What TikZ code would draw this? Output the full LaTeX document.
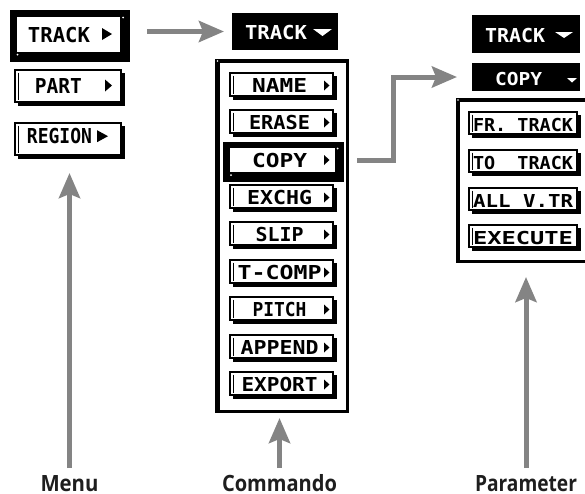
\documentclass[tikz,border=0pt]{standalone}
\usepackage{fontspec}
\usepackage{graphicx}
\usetikzlibrary{arrows.meta}
\newfontfamily\lcdfont{DejaVu Sans Mono}
\newfontfamily\labfont{Open Sans}
\definecolor{arrgray}{RGB}{132,132,132}
\definecolor{labcol}{RGB}{30,30,30}
\newcommand{\lcd}[3][14]{\resizebox{#2pt}{\height}{\lcdfont\bfseries\fontsize{\fpeval{#1/0.729}pt}{20pt}\selectfont #3}}
\newcommand{\labtxt}[2]{\resizebox{#1pt}{\height}{\labfont\bfseries\fontsize{22.4pt}{24pt}\selectfont #2}}
\newcommand{\blk}[5]{\node[blkbox,minimum width={(#4-#2)*1pt},minimum height={(#5-#3)*1pt}] (#1) at ({(#2+#4)/2},{(#3+#5)/2}) {};}
\newcommand{\btn}[5]{%
  \fill (#2+3,#3+3) rectangle (#4+4,#5+4);
  \node[btnbox,minimum width={(#4-#2)*1pt},minimum height={(#5-#3)*1pt}] (#1) at ({(#2+#4)/2},{(#3+#5)/2}) {};
  \draw[line width=1pt] (#2+3,#3+2.5) -- (#2+3,#5-2.5);
}
\begin{document}
\begin{tikzpicture}[x=1pt,y=-1pt,
  arr/.style={draw=arrgray,line width=5pt,-{Stealth[length=25pt,width=21pt,inset=4pt]}},
  txt/.style={inner sep=0pt,outer sep=0pt},
  wtxt/.style={txt,text=white},
  lab/.style={inner sep=0pt,outer sep=0pt,anchor=base,text=labcol},
  blkbox/.style={fill=black,draw=none,inner sep=0pt,outer sep=0pt},
  btnbox/.style={fill=white,draw=black,line width=1.5pt,inner sep=0pt,outer sep=0pt},
]
\useasboundingbox (0,0) rectangle (585,493);
\begin{scope}
\clip (0,0) rectangle (585,493);
% ---------- Menu column ----------
\blk{mSel}{10}{10}{130}{62}
\fill[white] (17,17) rectangle (120,52);
\fill[white] (123,17.5) circle (1pt);
\fill[white] (17.5,54.5) circle (1pt);
\node[txt,anchor=base] (tTrackL) at (59,42) {\lcd[15]{62}{TRACK}};
\fill (102,28) -- (102,40) -- (112,34) -- cycle;

\btn{mPart}{15}{70}{121}{102}
\node[txt,anchor=base] (tPart) at (58.5,93) {\lcd[15]{47}{PART}};
\fill (105,79.5) -- (105,91.5) -- (112,85.5) -- cycle;

\btn{mReg}{15}{123}{121}{155}
\node[txt,anchor=base] (tReg) at (59.5,143.7) {\lcd[15]{65}{REGION}};
\fill (97,130.2) -- (97,142.2) -- (108,136.2) -- cycle;

% ---------- Commando column ----------
\blk{hdrA}{232}{13}{338}{50}
\node[wtxt,anchor=base] (tHdrA) at (276,39) {\lcd{62}{TRACK}};
\fill[white] (313,29) -- (332,29) -- (322.5,36) -- cycle;

\blk{panA}{215}{59}{349}{413}
\fill[white] (219.5,62.5) rectangle (346,409.5);
\fill[white] (217.5,61) circle (0.9pt);

\foreach \t/\w/\s/\n in {73/55/NAME/1,110/61/ERASE/2,185/65/EXCHG/4,222/48/SLIP/5,260/84/T-COMP/6,297/54/PITCH/7,335/78/APPEND/8,372/76/EXPORT/9}{
  \btn{b\n}{230}{\t}{333}{\t+23}
  \node[txt,anchor=base] (t\n) at (279.5,\t+19.5) {\lcd{\w}{\s}};
  \fill (324,\t+7.5) -- (324,\t+17.5) -- (329.5,\t+12.5) -- cycle;
}

\blk{cSel}{223}{142}{344}{182}
\fill[white] (230,148) rectangle (335,172);
\fill[white] (337.5,148.5) circle (1pt);
\fill[white] (231,175) circle (1pt);
\node[txt,anchor=base] (tCopy) at (279.5,167) {\lcd{55}{COPY}};
\fill (324,155) -- (324,165) -- (329.5,160) -- cycle;

% ---------- Parameter column ----------
\blk{hdrB}{472}{15}{580}{53}
\node[wtxt,anchor=base] (tHdrB) at (515,42) {\lcd{60}{TRACK}};
\fill[white] (555,32) -- (573,32) -- (564,38) -- cycle;

\blk{hdrC}{472}{63}{580}{91}
\node[wtxt,anchor=base] (tHdrC) at (518.5,85) {\lcd[13]{47}{COPY}};
\fill[white] (567,78) -- (577,78) -- (572,82.5) -- cycle;

\blk{panB}{456}{98}{600}{263}
\fill[white] (460,101.5) rectangle (597,259.5);
\fill[white] (458,100) circle (0.9pt);

\foreach \t/\s/\n in {112/FR. TRACK/1,150/TO\ \ TRACK/2,188/ALL V.TR/3,225/EXECUTE/4}{
  \btn{p\n}{469}{\t}{577}{\t+22}
  \node[txt,anchor=base] (pt\n) at (523,\t+19.3) {\lcd[13]{100}{\s}};
}
\end{scope}

% ---------- labels ----------
\node[lab] (lMenu) at (69.5,491.5) {\labtxt{58}{Menu}};
\node[lab] (lCom) at (279.5,491.5) {\labtxt{115}{Commando}};
\node[lab] (lPar) at (526,491.5) {\labtxt{102}{Parameter}};

% ---------- connectors ----------
\draw[arr,shorten <=17pt,shorten >=8pt] (mSel.east |- hdrA.west) -- (hdrA.west);
\draw[arr,shorten <=13pt,shorten >=15pt] ([yshift=2pt]cSel.east) -- ++(49,0) |- (hdrC.west);
\draw[arr,shorten <=23.5pt,shorten >=18pt] (lMenu.base) -- (lMenu.base |- mReg.south);
\draw[arr,shorten <=23.5pt,shorten >=5pt] (lCom.base) -- (lCom.base |- panA.south);
\draw[arr,shorten <=23.5pt,shorten >=14pt] (lPar.base) -- (lPar.base |- panB.south);
\end{tikzpicture}
\end{document}
